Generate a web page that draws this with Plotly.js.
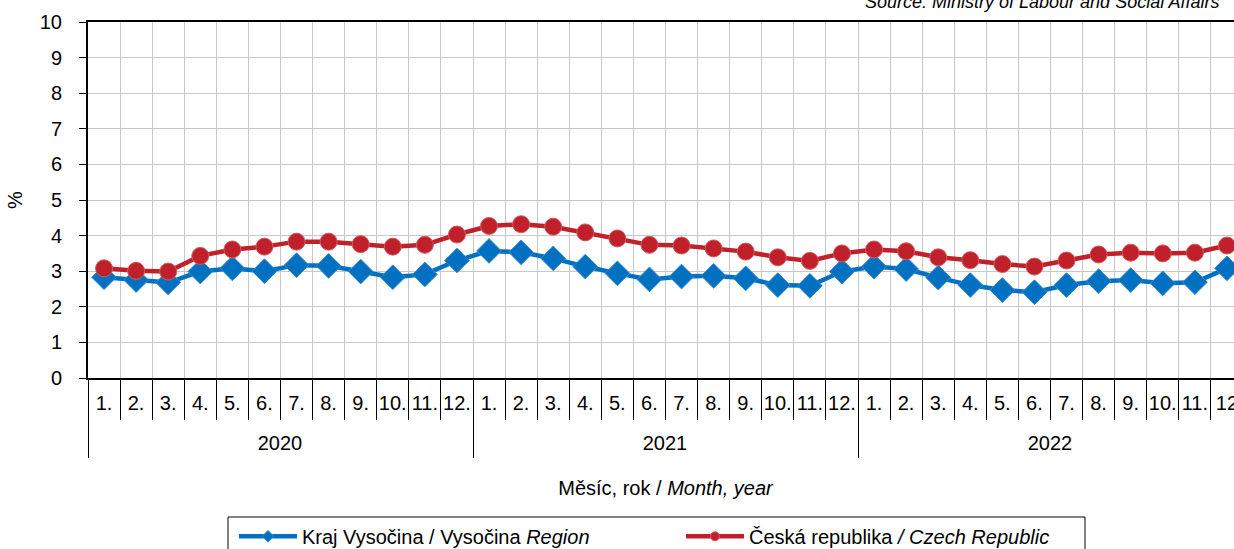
<!DOCTYPE html>
<html>
<head>
<meta charset="utf-8">
<script src="https://cdn.plot.ly/plotly-3.0.1.min.js"></script>
<style>
  html, body { margin: 0; padding: 0; overflow: hidden; background: #fff; }
</style>
</head>
<body>
<div id="chart"></div>
<script>
// registered unemployment share, %
var years = ['2020', '2021', '2022'];
var months = ['1.', '2.', '3.', '4.', '5.', '6.', '7.', '8.', '9.', '10.', '11.', '12.',
              '1.', '2.', '3.', '4.', '5.', '6.', '7.', '8.', '9.', '10.', '11.', '12.',
              '1.', '2.', '3.', '4.', '5.', '6.', '7.', '8.', '9.', '10.', '11.', '12'];

var vysocina = [2.83, 2.75, 2.68, 2.99, 3.08, 3.00, 3.17, 3.15, 2.99, 2.83, 2.91, 3.30,
                3.57, 3.53, 3.36, 3.13, 2.94, 2.77, 2.85, 2.87, 2.80, 2.61, 2.59, 2.99,
                3.13, 3.06, 2.82, 2.61, 2.47, 2.41, 2.61, 2.72, 2.75, 2.66, 2.69, 3.08];
var cesko = [3.08, 3.01, 2.99, 3.43, 3.61, 3.69, 3.83, 3.83, 3.76, 3.69, 3.74, 4.03,
             4.27, 4.32, 4.25, 4.09, 3.92, 3.74, 3.72, 3.64, 3.55, 3.39, 3.29, 3.50,
             3.61, 3.56, 3.39, 3.31, 3.20, 3.13, 3.30, 3.47, 3.52, 3.50, 3.52, 3.72];

var names = ['Kraj Vysočina / Vysočina <i>Region</i>', 'Česká republika <i>/ Czech Republic</i>'];

var blue = '#0070C0', red = '#C0202A';
var font = 'Liberation Sans, Arial, sans-serif';

var idx = months.map(function (m, i) { return i; });
// tick positions on month and year borders
var monthEdges = idx.map(function (i) { return i - 0.5; }).concat([months.length - 0.5]);
var monthText = months.concat(['']);
var yearEdges = years.map(function (y, i) { return i * 12 - 0.5; }).concat([months.length - 0.5]);
var yearText = years.concat(['']);

var traces = [
  {
    x: idx, y: vysocina, type: 'scatter', mode: 'lines+markers',
    name: names[0], legendgroup: 'a', showlegend: false,
    line: { color: blue, width: 4.5 },
    marker: { symbol: 'diamond', size: 19, color: blue, line: { color: '#3A8AD0', width: 1 } }
  },
  {
    x: idx, y: cesko, type: 'scatter', mode: 'lines+markers',
    name: names[1], legendgroup: 'b', showlegend: false,
    line: { color: red, width: 4.5 },
    marker: { symbol: 'circle', size: 17, color: red, line: { color: '#D45A60', width: 1 } }
  },
  // legend entries only (smaller markers as in the original)
  {
    x: [null], y: [null], type: 'scatter', mode: 'lines+markers',
    name: names[0], legendgroup: 'a',
    line: { color: blue, width: 4.5 },
    marker: { symbol: 'diamond', size: 9, color: blue, line: { color: '#3A8AD0', width: 1 } }
  },
  {
    x: [null], y: [null], type: 'scatter', mode: 'lines+markers',
    name: names[1], legendgroup: 'b',
    line: { color: red, width: 4.5 },
    marker: { symbol: 'circle', size: 9, color: red, line: { color: '#D45A60', width: 1 } }
  },
  // carrier for the year axis
  { x: [null], y: [null], xaxis: 'x2', type: 'scatter', mode: 'none', showlegend: false, hoverinfo: 'skip' }
];

var plotW = 1155, plotH = 356;

var layout = {
  width: 1243,
  height: 549,
  margin: { l: 88, r: 0, t: 22, b: 171, autoexpand: false },
  paper_bgcolor: '#fff',
  plot_bgcolor: '#fff',
  font: { family: font, size: 20, color: '#000' },
  showlegend: true,
  xaxis: {
    range: [-0.5, 35.5],
    tickmode: 'array', tickvals: monthEdges, ticktext: monthText,
    ticks: 'outside', ticklen: 40, tickwidth: 1, tickcolor: '#000',
    ticklabelshift: 16, ticklabelstandoff: -34,
    showline: true, linewidth: 2, linecolor: '#000', mirror: true,
    showgrid: true, gridcolor: '#C8C8C8', gridwidth: 1,
    zeroline: false, fixedrange: true
  },
  xaxis2: {
    overlaying: 'x', anchor: 'y', side: 'bottom',
    range: [-0.5, 35.5],
    tickmode: 'array', tickvals: yearEdges, ticktext: yearText,
    ticks: 'outside', ticklen: 79, tickwidth: 1, tickcolor: '#000',
    ticklabelshift: 192, ticklabelstandoff: -32,
    showline: false, showgrid: false, zeroline: false,
    title: { text: 'Měsíc, rok / <i>Month, year</i>', standoff: 27, font: { size: 20 } }
  },
  yaxis: {
    range: [0, 10], dtick: 1,
    ticks: 'outside', ticklen: 7, tickwidth: 1, tickcolor: '#000',
    ticklabelstandoff: 13,
    showline: true, linewidth: 2, linecolor: '#000',
    showgrid: true, gridcolor: '#C8C8C8', gridwidth: 1,
    zeroline: false,
    title: { text: '%', standoff: 12, font: { size: 20 } }
  },
  legend: {
    orientation: 'h',
    x: (234 - 88) / plotW, xanchor: 'left',
    y: -0.39, yanchor: 'top',
    bgcolor: 'rgba(0,0,0,0)', borderwidth: 0,
    itemwidth: 58,
    entrywidth: 374, entrywidthmode: 'pixels',
    font: { size: 20 }
  },
  // legend frame
  shapes: [{
    type: 'rect', xref: 'paper', yref: 'paper', layer: 'above',
    x0: (228 - 88) / plotW, x1: (1085 - 88) / plotW,
    y0: (378 - 517) / plotH, y1: (378 - 560) / plotH,
    line: { color: '#000', width: 1 }, fillcolor: 'rgba(0,0,0,0)'
  }],
  annotations: [{
    text: '<i>Source: Ministry of Labour and Social Affairs</i>',
    xref: 'paper', yref: 'paper', x: (1222 - 88) / plotW, y: 1,
    xanchor: 'right', yanchor: 'middle', yshift: 20,
    showarrow: false, font: { size: 18 }
  }]
};

Plotly.newPlot('chart', traces, layout, { staticPlot: true, displayModeBar: false });
</script>
</body>
</html>
